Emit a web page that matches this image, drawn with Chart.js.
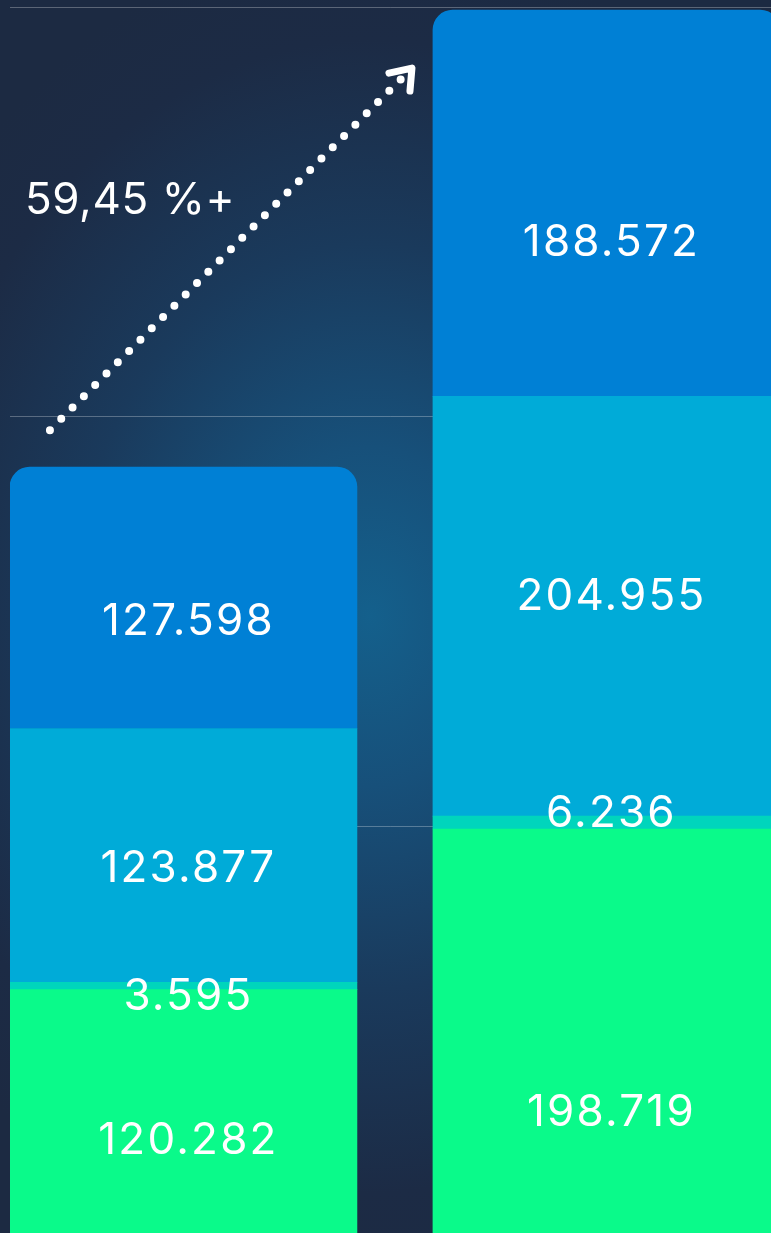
<!DOCTYPE html>
<html>
<head>
<meta charset="utf-8">
<style>
  html, body { margin: 0; padding: 0; }
  body {
    width: 771px; height: 1233px; overflow: hidden;
    background: radial-gradient(ellipse 70% 55% at 48% 50%, #14608c 0%, #17507a 25%, #1a3a5c 55%, #1c2b45 85%, #1c2a42 100%);
  }
  #wrap { position: absolute; left: 0; top: 0; width: 771px; height: 1236px; }
</style>
</head>
<body>
<div id="wrap"><canvas id="chart"></canvas></div>
<script src="https://cdn.jsdelivr.net/npm/chart.js"></script>
<script>
// two periods, stacked from the bottom up
const periods = [0, 1];
const greenValues = [120282, 198719];
const tealValues = [3595, 6236];
const lightBlueValues = [123877, 204955];
const blueValues = [127598, 188572];
const yTicks = [0, 200000, 400000, 600000];

const FONT = '"Inter", "Open Sans", sans-serif';

function fmt(v) {
  return String(v).replace(/\B(?=(\d{3})+(?!\d))/g, '.');
}

function points(values) {
  return values.map((v, i) => ({ x: periods[i], y: v }));
}

// value labels in each segment, nudged a bit like the original layout
const segmentLabels = {
  id: 'segmentLabels',
  afterDatasetsDraw(chart) {
    const ctx = chart.ctx;
    const area = chart.chartArea;
    ctx.save();
    ctx.fillStyle = '#ffffff';
    ctx.font = '400 44px ' + FONT;
    ctx.letterSpacing = '2.2px';
    ctx.textAlign = 'center';
    ctx.textBaseline = 'alphabetic';
    chart.data.datasets.forEach((ds, di) => {
      const meta = chart.getDatasetMeta(di);
      meta.data.forEach((bar, i) => {
        const p = bar.getProps(['x', 'y', 'base'], true);
        const top = Math.min(p.y, p.base);
        const bottom = Math.min(Math.max(p.y, p.base), area.bottom);
        const text = fmt(ds.data[i].y);
        const m = ctx.measureText(text);
        const nudge = ds.labelNudge ? ds.labelNudge[i] : 0;
        const cy = (top + bottom) / 2 + m.actualBoundingBoxAscent / 2 + nudge;
        ctx.fillText(text, p.x + 5, cy);
      });
    });
    ctx.restore();
  }
};

// dotted growth arrow between the two stack tops
const growthArrow = {
  id: 'growthArrow',
  afterDatasetsDraw(chart) {
    const ctx = chart.ctx;
    const top = chart.getDatasetMeta(chart.data.datasets.length - 1).data;
    const a = top[0].getProps(['x', 'y', 'width'], true);
    const b = top[1].getProps(['x', 'y', 'width'], true);
    const sx = a.x - a.width / 2 + 40, sy = a.y - 37;
    const ex = b.x - b.width / 2 - 21, ey = b.y + 58;

    ctx.save();
    ctx.strokeStyle = '#ffffff';
    ctx.lineCap = 'round';
    ctx.lineJoin = 'round';
    ctx.lineWidth = 8;
    ctx.setLineDash([0, 16]);
    ctx.beginPath();
    ctx.moveTo(sx, sy);
    ctx.lineTo(ex - 8, ey + 8);
    ctx.stroke();

    ctx.setLineDash([]);
    ctx.lineWidth = 7;
    ctx.beginPath();
    ctx.moveTo(ex - 23, ey + 5);
    ctx.lineTo(ex, ey);
    ctx.lineTo(ex - 2, ey + 23);
    ctx.stroke();

    const t1 = chart.data.datasets.reduce((s, d) => s + d.data[0].y, 0);
    const t2 = chart.data.datasets.reduce((s, d) => s + d.data[1].y, 0);
    const pct = ((t2 / t1 - 1) * 100).toFixed(2).replace('.', ',') + ' %+';
    ctx.fillStyle = '#ffffff';
    ctx.font = '400 44px ' + FONT;
    ctx.letterSpacing = '0.6px';
    ctx.textAlign = 'left';
    ctx.textBaseline = 'alphabetic';
    ctx.fillText(pct, chart.chartArea.left + 15, sy - 216);
    ctx.restore();
  }
};

new Chart(document.getElementById('chart'), {
  type: 'bar',
  data: {
    datasets: [
      { data: points(greenValues), backgroundColor: '#0afa8a', labelNudge: [25, 77] },
      { data: points(tealValues), backgroundColor: '#00d5bc', labelNudge: [8, -12] },
      { data: points(lightBlueValues), backgroundColor: '#00abd8', labelNudge: [11, -13] },
      { data: points(blueValues), backgroundColor: '#0080d5', labelNudge: [21, 37],
        borderRadius: { topLeft: 20, topRight: 20 } }
    ]
  },
  options: {
    responsive: true,
    maintainAspectRatio: false,
    animation: false,
    barThickness: 347,
    borderWidth: 0,
    layout: { padding: { left: 10, top: 7, right: 0, bottom: 0 } },
    plugins: { legend: { display: false }, tooltip: { enabled: false } },
    scales: {
      x: {
        type: 'linear',
        stacked: true,
        offset: false,
        min: -0.41,
        max: 1.389,
        display: false
      },
      y: {
        stacked: true,
        min: yTicks[0],
        max: yTicks[yTicks.length - 1],
        afterBuildTicks: s => { s.ticks = yTicks.map(v => ({ value: v })); },
        ticks: { display: false },
        border: { display: false },
        grid: { color: 'rgba(255,255,255,0.28)', lineWidth: 1, drawTicks: false }
      }
    }
  },
  plugins: [segmentLabels, growthArrow]
});
</script>
</body>
</html>
